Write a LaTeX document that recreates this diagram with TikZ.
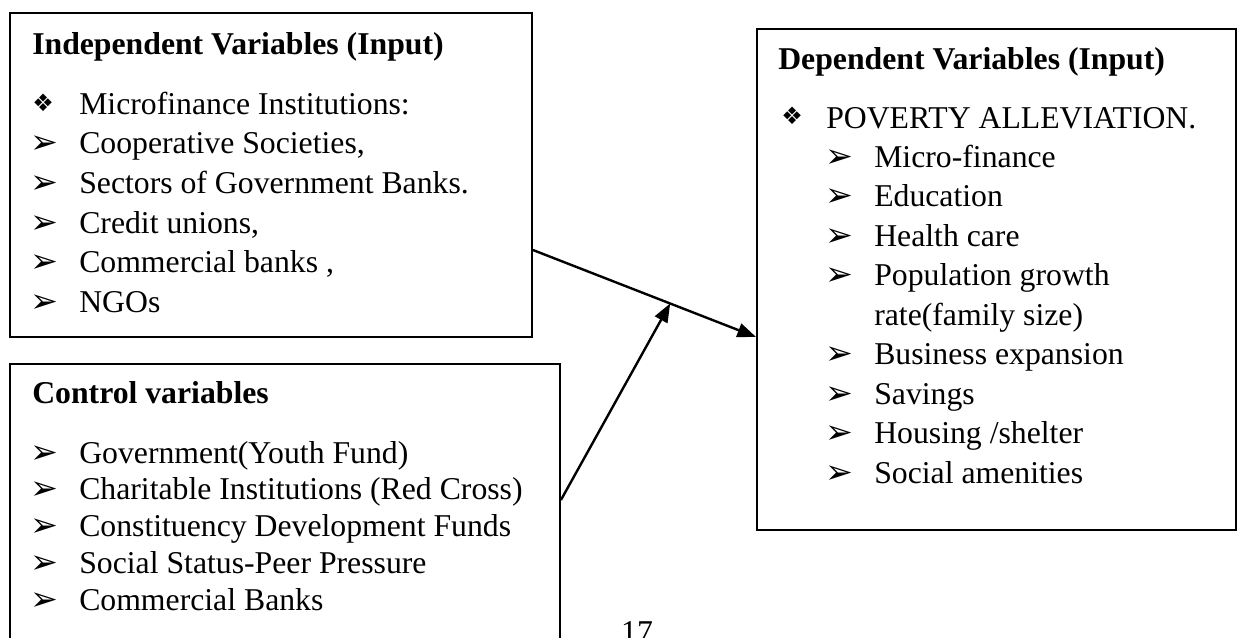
\documentclass[tikz,border=0pt]{standalone}
\usepackage{fontspec}
\setmainfont{Liberation Serif}
\newfontfamily\dingfont{DejaVu Sans}
\usetikzlibrary{calc,arrows.meta,positioning}
\newcommand{\bodysize}{\fontsize{23.8}{28}\selectfont}
\newcommand{\dingsize}{\fontsize{25}{28}\selectfont}

\begin{document}
\begin{tikzpicture}[x=0.75pt, y=-0.75pt,
  varbox/.style={draw, line width=1.4pt, inner sep=0pt},
  head/.style={anchor=base west, inner sep=0pt, font=\bfseries\bodysize},
  entry/.style={anchor=base west, inner sep=0pt, font=\bodysize},
  bul/.style={anchor=base west, inner sep=0pt, font=\dingfont\dingsize},
  diam/.style={anchor=base west, inner sep=0pt, font=\dingfont\fontsize{18}{20}\selectfont},
  link/.style={line width=1.8pt, -{Triangle[length=14pt, width=10.5pt]}}]
  \useasboundingbox (0,0) rectangle (1237,638);

  % The three boxes
  \node[varbox, minimum width=391.5pt, minimum height=243pt] (indep) at (271,175) {};
  \node[varbox, minimum width=412.5pt, minimum height=214.5pt] (ctrl) at (285,507) {};
  \node[varbox, minimum width=359.25pt, minimum height=375.75pt] (dep) at (996.5,279.5) {};

  % Independent variables
  \node[head] (indT) at (32,55) {Independent Variables (Input)};
  \node[diam] (indAb) at (32,112) {❖};
  \node[entry] (indA) at (79,115) {Microfinance Institutions:};
  \node[bul] (indBb) at (30,154) {➢};
  \node[entry] (indB) at (79,154) {Cooperative Societies,};
  \node[bul] (indCb) at (30,193) {➢};
  \node[entry] (indC) at (79,193) {Sectors of Government Banks.};
  \node[bul] (indDb) at (30,233) {➢};
  \node[entry] (indD) at (79,233) {Credit unions,};
  \node[bul] (indEb) at (30,272) {➢};
  \node[entry] (indE) at (79,272) {Commercial banks ,};
  \node[bul] (indFb) at (30,312) {➢};
  \node[entry] (indF) at (79,312) {NGOs};

  % Control variables
  \node[head] (ctrlT) at (32,403) {Control variables};
  \node[bul] (ctrlAb) at (30,463) {➢};
  \node[entry] (ctrlA) at (79,463) {Government(Youth Fund)};
  \node[bul] (ctrlBb) at (30,499.75) {➢};
  \node[entry] (ctrlB) at (79,499.75) {Charitable Institutions (Red Cross)};
  \node[bul] (ctrlCb) at (30,536.5) {➢};
  \node[entry] (ctrlC) at (79,536.5) {Constituency Development Funds};
  \node[bul] (ctrlDb) at (30,573.25) {➢};
  \node[entry] (ctrlD) at (79,573.25) {Social Status-Peer Pressure};
  \node[bul] (ctrlEb) at (30,610) {➢};
  \node[entry] (ctrlE) at (79,610) {Commercial Banks};

  % Dependent variables
  \node[head] (depT) at (778,70) {Dependent Variables (Input)};
  \node[diam] (depAb) at (781,125) {❖};
  \node[entry] (depA) at (826,128) {POVERTY ALLEVIATION.};
  \node[bul] (depBb) at (825,167) {➢};
  \node[entry] (depB) at (874,167) {Micro-finance};
  \node[bul] (depCb) at (825,206.5) {➢};
  \node[entry] (depC) at (874,206.5) {Education};
  \node[bul] (depDb) at (825,246) {➢};
  \node[entry] (depD) at (874,246) {Health care};
  \node[bul] (depEb) at (825,285.5) {➢};
  \node[entry] (depE) at (874,285.5) {Population growth};
  \node[entry] (depE2) at (874,325) {rate(family size)};
  \node[bul] (depFb) at (825,364.5) {➢};
  \node[entry] (depF) at (874,364.5) {Business expansion};
  \node[bul] (depGb) at (825,404) {➢};
  \node[entry] (depG) at (874,404) {Savings};
  \node[bul] (depHb) at (825,443.5) {➢};
  \node[entry] (depH) at (874,443.5) {Housing /shelter};
  \node[bul] (depIb) at (825,483) {➢};
  \node[entry] (depI) at (874,483) {Social amenities};

  % page number
  \node[entry, anchor=base] (pageno) at (637,642) {17};

  % Connectors
  \coordinate (indOut) at ($(indep.east)+(0,75)$);
  \coordinate (depIn) at ($(dep.west)+(0,57.5)$);
  \coordinate (ctrlOut) at ($(ctrl.east)+(0,-7)$);
  \coordinate (meet) at ($(indOut)!0.615!(depIn)$);
  \draw[link] (indOut) -- (depIn);
  \draw[link] (ctrlOut) -- (meet);
\end{tikzpicture}
\end{document}
